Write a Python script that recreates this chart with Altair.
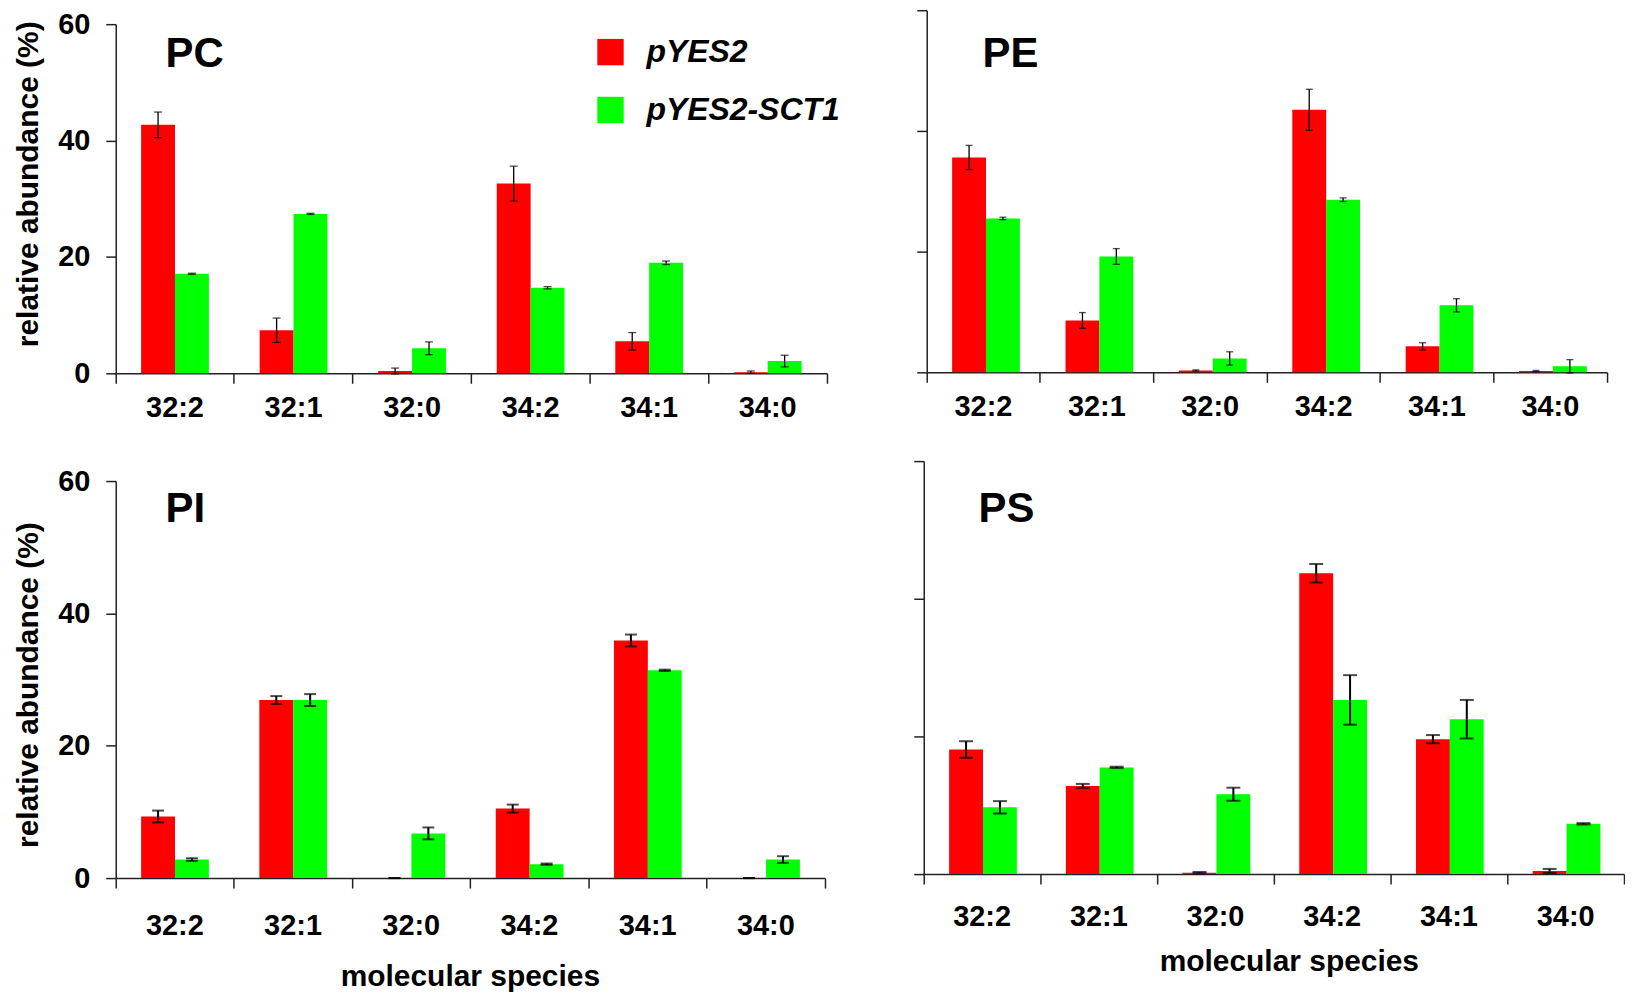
import altair as alt
import pandas as pd

FONT = "Liberation Sans"

species = ["32:2", "32:1", "32:0", "34:2", "34:1", "34:0"]
constructs = ["pYES2", "pYES2-SCT1"]
colors = ["#ff0000", "#00ff00"]
y_ticks = [0, 20, 40, 60]

# PC
pc_red = [42.7, 7.4, 0.4, 32.6, 5.5, 0.2]
pc_red_err = [2.2, 2.1, 0.5, 3.0, 1.5, 0.2]
pc_green = [17.1, 27.4, 4.3, 14.7, 19.0, 2.1]
pc_green_err = [0.1, 0.1, 1.1, 0.2, 0.3, 1.0]
# PE
pe_red = [35.6, 8.6, 0.3, 43.5, 4.3, 0.2]
pe_red_err = [2.0, 1.3, 0.1, 3.4, 0.6, 0.1]
pe_green = [25.5, 19.2, 2.3, 28.6, 11.1, 1.0]
pe_green_err = [0.2, 1.3, 1.1, 0.3, 1.1, 1.1]
# PI
pi_red = [9.3, 26.9, 0.0, 10.5, 35.9, 0.0]
pi_red_err = [0.9, 0.6, 0.0, 0.6, 0.9, 0.0]
pi_green = [2.8, 26.9, 6.75, 2.1, 31.4, 2.8]
pi_green_err = [0.2, 0.9, 0.9, 0.1, 0.1, 0.5]
# PS
ps_red = [18.1, 12.8, 0.2, 43.7, 19.6, 0.45]
ps_red_err = [1.2, 0.3, 0.1, 1.35, 0.6, 0.3]
ps_green = [9.7, 15.5, 11.6, 25.3, 22.5, 7.3]
ps_green_err = [0.9, 0.1, 0.95, 3.6, 2.8, 0.1]


def panel(name, red, red_err, green, green_err, w, h, top_off,
          left_axis, bottom_axis, legend, title_xy, ytitle_y,
          x_label_pad, x_title_pad, x_title_x, cap, sw):
    df = pd.DataFrame({
        "species": species * 2,
        "construct": [constructs[0]] * 6 + [constructs[1]] * 6,
        "value": red + green,
        "err": red_err + green_err,
    })
    df["lo"] = df["value"] - df["err"]
    df["hi"] = df["value"] + df["err"]

    xaxis_kw = dict(
        bandPosition=1, tickExtra=True, labelAngle=0,
        labelPadding=x_label_pad, tickSize=10, labelOverlap=False,
    )
    if bottom_axis:
        xaxis_kw.update(title="molecular species", titlePadding=x_title_pad,
                        titleFontSize=30, titleX=x_title_x)
    else:
        xaxis_kw.update(title=None)
    x = alt.X(
        "species:N", sort=species,
        scale=alt.Scale(paddingInner=0, paddingOuter=0),
        axis=alt.Axis(**xaxis_kw),
    )
    xo = alt.XOffset("construct:N", sort=constructs,
                     scale=alt.Scale(paddingInner=0, paddingOuter=0.75))
    yscale = alt.Scale(domain=[0, 60], range=[h, top_off], nice=False, zero=True)
    if left_axis:
        yaxis = alt.Axis(values=y_ticks, title="relative abundance (%)",
                         tickSize=10, labelPadding=16, titlePadding=14,
                         titleFontSize=30, titleY=ytitle_y)
    else:
        yaxis = alt.Axis(values=y_ticks, title=None, labels=False, tickSize=10)

    base = alt.Chart(df)
    if legend:
        leg = alt.Legend(
            title=None, orient="none", legendX=480, legendY=26,
            symbolType="square", symbolSize=700, symbolStrokeWidth=0,
            labelFont=FONT, labelFontSize=32, labelFontStyle="italic",
            labelFontWeight="bold", labelColor="black", labelOffset=20,
            rowPadding=26, padding=0, labelLimit=500,
        )
    else:
        leg = None
    bars = base.mark_bar(strokeWidth=0).encode(
        x=x, xOffset=xo,
        y=alt.Y("value:Q", scale=yscale, axis=yaxis),
        color=alt.Color("construct:N", sort=constructs,
                        scale=alt.Scale(domain=constructs, range=colors),
                        legend=leg),
    )
    rules = base.mark_rule(color="black", strokeWidth=sw).encode(
        x=x, xOffset=xo, y=alt.Y("lo:Q", scale=yscale), y2="hi:Q")
    cap_lo = base.mark_tick(color="black", thickness=sw, size=cap).encode(
        x=x, xOffset=xo, y=alt.Y("lo:Q", scale=yscale))
    cap_hi = base.mark_tick(color="black", thickness=sw, size=cap).encode(
        x=x, xOffset=xo, y=alt.Y("hi:Q", scale=yscale))
    title = alt.Chart(pd.DataFrame({"t": [name]})).mark_text(
        align="left", baseline="alphabetic", font=FONT, fontSize=42,
        fontWeight="bold", color="black",
    ).encode(text="t:N", x=alt.value(title_xy[0]), y=alt.value(title_xy[1]))

    return alt.layer(bars, rules, cap_lo, cap_hi, title).properties(
        width=w, height=h)


pc = panel("PC", pc_red, pc_red_err, pc_green, pc_green_err, 713, 364, 14,
           True, False, True, (50, 57), 174, 10, 0, 0, 8, 1.3)
pe = panel("PE", pe_red, pe_red_err, pe_green, pe_green_err, 682, 363, 0,
           False, False, False, (56, 57), 0, 10, 0, 0, 7, 1.3)
pi = panel("PI", pi_red, pi_red_err, pi_green, pi_green_err, 711, 418, 20,
           True, True, False, (50, 61), 224, 24, 21, 355, 12, 2)
ps = panel("PS", ps_red, ps_red_err, ps_green, ps_green_err, 702, 414, 0,
           False, True, False, (55, 61), 0, 19, 15, 366, 14, 2)

top = alt.hconcat(pc, pe, spacing=76).resolve_scale(color="independent")
bottom = alt.hconcat(pi, ps, spacing=87).resolve_scale(color="independent")

chart = alt.vconcat(top, bottom, spacing=38).resolve_scale(
    color="independent"
).properties(
    padding={"left": 5, "top": 0, "right": 0, "bottom": 0},
    autosize=alt.AutoSizeParams(type="pad"),
).configure_view(stroke=None).configure_axis(
    labelFont=FONT, titleFont=FONT, labelFontSize=29, labelFontWeight="bold",
    titleFontWeight="bold", labelColor="black", titleColor="black",
    domainColor="#222222", tickColor="#222222", domainWidth=1.5, tickWidth=1.5,
    grid=False,
)

chart.save("out.html", embed_options={"renderer": "svg", "actions": False})
